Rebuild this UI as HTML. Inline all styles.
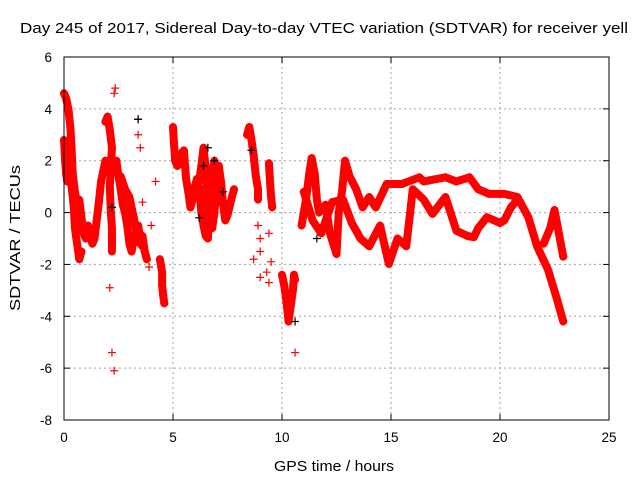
<!DOCTYPE html>
<html><head><meta charset="utf-8"><style>
body{margin:0;background:#fff;}
svg{display:block;font-family:"Liberation Sans",sans-serif;}
</style></head><body>
<svg id="chart" width="640" height="480" viewBox="0 0 640 480">
<rect width="640" height="480" fill="#fff"/>
<text x="20" y="33" font-size="14.5" textLength="608" lengthAdjust="spacingAndGlyphs" fill="#000">Day 245 of 2017, Sidereal Day-to-day VTEC variation (SDTVAR) for receiver yell</text>
<text transform="translate(20,238) rotate(-90)" text-anchor="middle" font-size="14.5" textLength="146" lengthAdjust="spacingAndGlyphs">SDTVAR / TECUs</text>
<text x="334" y="471" text-anchor="middle" font-size="14.5" textLength="120" lengthAdjust="spacingAndGlyphs">GPS time / hours</text>
<g id="grid"></g>
<g id="ticks"></g>
<g id="series"></g>
<rect x="64" y="57" width="545" height="363" fill="none" stroke="#000" stroke-width="1"/>
</svg>
<script>
const xTicks=[0,5,10,15,20,25];
const yTicks=[6,4,2,0,-2,-4,-6,-8];
const tracks=[
[[0,4.6],[0.1,4.4],[0.2,4.0],[0.3,3.2],[0.35,2.4],[0.4,1.5],[0.5,0.8],[0.6,0.3],[0.7,-0.2],[0.8,-0.6]],
[[0,2.8],[0.05,2.0],[0.1,1.5],[0.15,1.2],[0.25,1.8],[0.35,1.0],[0.45,0.2],[0.5,-0.6],[0.6,-1.2],[0.7,-1.8],[0.8,-1.5]],
[[0.7,0.5],[0.8,-0.2],[0.9,-0.8],[1.0,-1.0],[1.1,-0.5],[1.2,-0.8],[1.3,-1.2],[1.4,-1.0],[1.5,-0.3],[1.6,0.4],[1.7,1.2],[1.8,1.6],[1.9,2.0],[2.0,1.8]],
[[1.9,3.5],[2.0,3.7],[2.1,3.2],[2.2,2.5],[2.1,1.0],[2.15,0],[2.2,-0.6],[2.2,-1.5]],
[[2.3,1.8],[2.4,2.0],[2.5,1.4],[2.6,0.9],[2.7,0.3],[2.8,0],[2.9,-0.5],[3.0,-1.2],[3.1,-1.5],[3.2,-1.0],[3.3,-0.8],[3.4,-0.5],[3.5,-1.0],[3.6,-0.9],[3.7,-1.5],[3.8,-1.8]],
[[2.6,1.4],[2.8,0.9],[3.0,0.6],[3.2,-0.2],[3.4,-1.1],[3.6,-1.3]],
[[4.4,-1.8],[4.5,-2.3],[4.5,-2.8],[4.55,-3.2],[4.6,-3.5]],
[[5.0,3.3],[5.05,2.6],[5.1,2.0],[5.2,1.8],[5.3,2.2],[5.5,2.4],[5.6,1.3],[5.7,0.8],[5.8,0.2],[5.9,0.5],[6.0,1.0],[6.1,1.3],[6.2,1.2],[6.3,1.8],[6.4,2.5],[6.5,1.7],[6.6,0.5],[6.7,-0.3],[6.8,-0.6],[6.9,0],[7.0,1.0],[7.1,1.8],[7.2,1.2],[7.3,0.3],[7.4,-0.3],[7.5,-0.1],[7.7,0.6],[7.8,0.9]],
[[6.2,1.0],[6.3,0],[6.4,-0.5],[6.5,-0.9],[6.6,-1.0],[6.7,0.6],[6.8,1.5],[6.9,2.0]],
[[8.4,3.0],[8.5,3.3],[8.6,2.8],[8.7,2.2],[8.8,1.4],[8.9,0.9],[8.9,0.5]],
[[9.4,1.9],[9.45,1.2],[9.5,0.6],[9.55,0.2]],
[[10.0,-2.4],[10.1,-2.8],[10.2,-3.4],[10.3,-4.2],[10.4,-3.6],[10.5,-3.0],[10.55,-2.4],[10.6,-2.6]],
[[10.9,-0.5],[11.1,0.5],[11.25,1.5],[11.36,2.1],[11.5,1.5],[11.6,0.5],[11.7,0],[11.9,0.2],[12.0,0.3],[12.2,-0.8],[12.5,-1.6],[12.6,0],[12.75,0.8],[12.89,2.0],[13.1,1.4],[13.4,0.9],[13.7,0.2],[14.0,0.6],[14.3,0.2],[14.8,1.1],[15.5,1.1],[16.3,1.36],[16.5,1.2],[17.5,1.36],[18.0,1.2],[18.6,1.36],[19.0,0.9],[19.5,0.72],[20.2,0.72],[20.8,0.6],[21.3,-0.18],[21.7,-1.3],[22.2,-2.2],[22.6,-3.3],[22.9,-4.2]],
[[11.0,0.8],[11.4,-0.3],[11.8,-0.8],[12.3,0.4],[12.8,0.5],[13.2,-0.4],[13.6,-1.0],[14.0,-1.3],[14.5,-0.5],[14.9,-1.98],[15.3,-1.0],[15.7,-1.3],[16.0,0.9],[16.5,0.5],[16.9,-0.05],[17.5,0.6],[18.0,-0.7],[18.5,-0.9],[18.8,-0.95],[19.0,-0.6],[19.4,-0.18],[20.0,-0.4],[20.2,-0.3],[20.5,0.2],[20.8,0.5]],
[[22.0,-1.2],[22.3,-0.6],[22.5,0.1],[22.7,-0.8],[22.9,-1.7]]
];
const outliers=[[2.3,4.6],[2.35,4.8],[3.4,3.6],[3.4,3.0],[3.5,2.5],[4.2,1.2],[2.2,-5.4],[2.3,-6.1],[2.1,-2.9],[3.6,0.4],[8.9,-0.5],[9.0,-1.0],[9.0,-1.5],[9.0,-2.5],[8.7,-1.8],[9.4,-0.8],[9.3,-2.3],[9.4,-2.7],[9.5,-1.9],[10.6,-5.4],[4.0,-0.5],[3.9,-2.1]];
const blackPts=[[6.4,1.8],[6.6,2.5],[6.9,2.0],[8.6,2.4],[3.4,3.6],[2.2,0.2],[6.2,-0.2],[7.3,0.8],[11.6,-1.0],[10.6,-4.2]];

const NS='http://www.w3.org/2000/svg';
const X=t=>64+t*(545/25);
const Y=v=>57+(6-v)*(363/14);
function mk(tag,attrs,parent){const e=document.createElementNS(NS,tag);for(const k in attrs)e.setAttribute(k,attrs[k]);parent.appendChild(e);return e;}
const grid=document.getElementById('grid'),ticks=document.getElementById('ticks'),ser=document.getElementById('series');
xTicks.forEach(t=>{
  const x=X(t);
  if(t>0&&t<25){const g=mk('line',{x1:x,x2:x,y1:57,y2:420,stroke:'#a0a0a0','stroke-dasharray':'2,3'},grid);}
  mk('line',{x1:x,x2:x,y1:420,y2:414,stroke:'#000'},ticks);
  mk('line',{x1:x,x2:x,y1:57,y2:63,stroke:'#000'},ticks);
  const l=mk('text',{x:x,y:442,'text-anchor':'middle','font-size':'13.5'},ticks);l.textContent=t;
  
  
});
yTicks.forEach(v=>{
  const y=Y(v);
  if(v<6&&v>-8){const g=mk('line',{x1:64,x2:609,y1:y,y2:y,stroke:'#a0a0a0','stroke-dasharray':'2,3'},grid);}
  mk('line',{x1:64,x2:70,y1:y,y2:y,stroke:'#000'},ticks);
  mk('line',{x1:609,x2:603,y1:y,y2:y,stroke:'#000'},ticks);
  const l=mk('text',{x:52,y:y+5,'text-anchor':'end','font-size':'13.5'},ticks);l.textContent=v;
  
  
});
function plus(t,v,c){
  const x=X(t),y=Y(v);
  const p=mk('path',{d:`M${x-4},${y}H${x+4}M${x},${y-4}V${y+4}`,stroke:c,'stroke-width':1.2,fill:'none'},ser);
  
  
}
tracks.forEach(tr=>{
  const pl=mk('polyline',{points:tr.map(p=>X(p[0])+','+Y(p[1])).join(' '),fill:'none',stroke:'#f00','stroke-width':8,'stroke-linejoin':'round','stroke-linecap':'round'},ser);
  
  
  tr.forEach(p=>plus(p[0],p[1],'#f00'));
});
outliers.forEach(p=>plus(p[0],p[1],'#f00'));
blackPts.forEach(p=>plus(p[0],p[1],'#000'));
</script>
</body></html>
